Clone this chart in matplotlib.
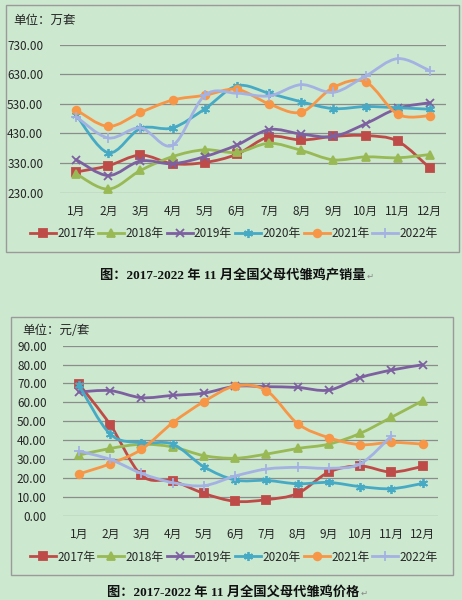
import matplotlib
matplotlib.use("Agg")
import matplotlib.pyplot as plt
from matplotlib.path import Path
from matplotlib.patches import PathPatch, Rectangle
from matplotlib.lines import Line2D

plt.rcParams['font.family'] = ['Noto Sans CJK SC', 'DejaVu Sans']

months = ['1月', '2月', '3月', '4月', '5月', '6月', '7月', '8月', '9月', '10月', '11月', '12月']
years = ['2017年', '2018年', '2019年', '2020年', '2021年', '2022年']

# 父母代雏鸡产销量 (万套)
sales_2017 = [300, 321, 357, 328, 332, 360, 419, 408, 420, 423, 404, 313]
sales_2018 = [294, 242, 305, 352, 375, 366, 397, 373, 341, 351, 348, 359]
sales_2019 = [342, 288, 337, 328, 352, 391, 443, 428, 420, 463, 515, 534]
sales_2020 = [493, 365, 447, 449, 513, 591, 566, 537, 514, 521, 517, 512]
sales_2021 = [510, 454, 501, 543, 559, 579, 530, 502, 586, 604, 495, 490]
sales_2022 = [487, 415, 449, 390, 559, 566, 557, 595, 569, 624, 683, 642]

# 父母代雏鸡价格 (元/套)
price_2017 = [69.7, 48.2, 21.4, 18.4, 11.8, 7.6, 8.5, 11.8, 23.1, 26.3, 23.1, 26.1]
price_2018 = [32.1, 35.6, 37.8, 36.4, 31.8, 30.4, 32.6, 35.6, 37.9, 43.6, 52.1, 60.9]
price_2019 = [65.5, 66.2, 62.5, 63.7, 64.9, 68.5, 68.3, 67.9, 66.5, 73.1, 77.1, 79.9]
price_2020 = [69.0, 43.2, 38.6, 37.9, 25.9, 18.9, 18.7, 16.9, 17.6, 15.4, 14.3, 17.1]
price_2021 = [22.1, 27.5, 35.1, 49.2, 60.4, 68.6, 66.2, 48.7, 41.3, 37.6, 38.8, 37.9]
price_2022 = [34.2, 29.8, 22.4, 17.5, 15.9, 21.0, 24.7, 25.6, 25.1, 27.4, 42.2]

sales_ticks = [230, 330, 430, 530, 630, 730]
price_ticks = [0, 10, 20, 30, 40, 50, 60, 70, 80, 90]

colors = ['#BE4B48', '#98B954', '#7D60A0', '#46AAC5', '#F79646', '#A3B2E2']
markers = ['s', '^', 'x', (6, 2, 0), 'o', '+']
msizes = [5.5, 5.5, 6, 6.5, 5.5, 7]

BG = '#CCE8CF'
GRID = '#8C8C8C'
TXT = '#262626'


def smooth_path(xs, ys):
    # Excel-style smoothed line: cubic bezier through the points
    pts = list(zip(xs, ys))
    n = len(pts)
    verts = [pts[0]]
    codes = [Path.MOVETO]
    for i in range(n - 1):
        p0 = pts[i - 1] if i > 0 else pts[i]
        p1 = pts[i]
        p2 = pts[i + 1]
        p3 = pts[i + 2] if i + 2 < n else pts[i + 1]
        c1 = (p1[0] + (p2[0] - p0[0]) / 6, p1[1] + (p2[1] - p0[1]) / 6)
        c2 = (p2[0] - (p3[0] - p1[0]) / 6, p2[1] - (p3[1] - p1[1]) / 6)
        verts += [c1, c2, p2]
        codes += [Path.CURVE4] * 3
    return Path(verts, codes)


def draw_chart(ax, series, ticks):
    ax.set_facecolor(BG)
    for i, vals in enumerate(series):
        xs = list(range(1, len(vals) + 1))
        ax.add_patch(PathPatch(smooth_path(xs, vals), facecolor='none',
                               edgecolor=colors[i], lw=2.0, zorder=3 + i,
                               capstyle='round', joinstyle='round'))
        ax.plot(xs, vals, ls='none', marker=markers[i], ms=msizes[i],
                color=colors[i], mec=colors[i], mew=1.3, zorder=3 + i)
    ax.set_xlim(0.5, 12.5)
    ax.set_ylim(ticks[0], ticks[-1])
    ax.set_yticks(ticks)
    ax.set_yticklabels(['%.2f' % t for t in ticks])
    ax.set_xticks(range(1, 13))
    ax.set_xticklabels(months)
    ax.grid(axis='y', color=GRID, lw=0.9)
    ax.set_axisbelow(True)
    for s in ax.spines.values():
        s.set_visible(False)
    ax.tick_params(length=0, labelsize=8.5, colors=TXT)
    ax.tick_params(axis='y', pad=12)
    ax.tick_params(axis='x', pad=9)


fig = plt.figure(figsize=(4.62, 6.0), dpi=100)
fig.patch.set_facecolor(BG)


def fx(px):
    return px / 462


def fy(py):
    return 1 - py / 600


# chart frames
fig.add_artist(Rectangle((fx(5.5), fy(252)), 453.5 / 462, 247 / 600,
                         transform=fig.transFigure, fill=False,
                         edgecolor='#9A9A9A', lw=1.0))
fig.add_artist(Rectangle((fx(11), fy(575)), 442 / 462, 258 / 600,
                         transform=fig.transFigure, fill=False,
                         edgecolor='#9A9A9A', lw=1.0))

ax1 = fig.add_axes([fx(60), fy(192.7), 386 / 462, 148 / 600])
draw_chart(ax1, [sales_2017, sales_2018, sales_2019, sales_2020, sales_2021, sales_2022],
           sales_ticks)
fig.text(fx(13.5), fy(20), '单位：万套', fontsize=9, color=TXT, ha='left', va='center')

ax2 = fig.add_axes([fx(63.3), fy(515.7), 375 / 462, 170 / 600])
draw_chart(ax2, [price_2017, price_2018, price_2019, price_2020, price_2021, price_2022],
           price_ticks)
fig.text(fx(22.5), fy(331), '单位：元/套', fontsize=9, color=TXT, ha='left', va='center')

handles = [Line2D([], [], color=colors[i], lw=2.0, marker=markers[i],
                  ms=msizes[i], mew=1.3) for i in range(6)]
for ycen in (fy(234), fy(557)):
    fig.legend(handles, years, loc='center', bbox_to_anchor=(0.506, ycen),
               ncol=6, frameon=False, fontsize=8.5, handlelength=2.2,
               handletextpad=0.12, columnspacing=0.25, labelcolor=TXT,
               borderpad=0)

cap_font = ['Liberation Serif', 'Noto Sans CJK SC']
captions = [('图：2017-2022 年 11 月全国父母代雏鸡产销量', 100, 275),
            ('图：2017-2022 年 11 月全国父母代雏鸡价格', 107, 592)]
renderer = fig.canvas.get_renderer()
for txt, x0, y0 in captions:
    t = fig.text(fx(x0), fy(y0), txt, ha='left', va='center', fontsize=9.5,
                 fontweight='bold', family=cap_font, color='#111111')
    bb = t.get_window_extent(renderer)
    fig.text(bb.x1 / fig.bbox.width + 0.003, fy(y0 + 1), '↵', ha='left',
             va='center', fontsize=6, color='#888888', family='DejaVu Sans')

fig.savefig('out.png', dpi=100, facecolor=BG)
